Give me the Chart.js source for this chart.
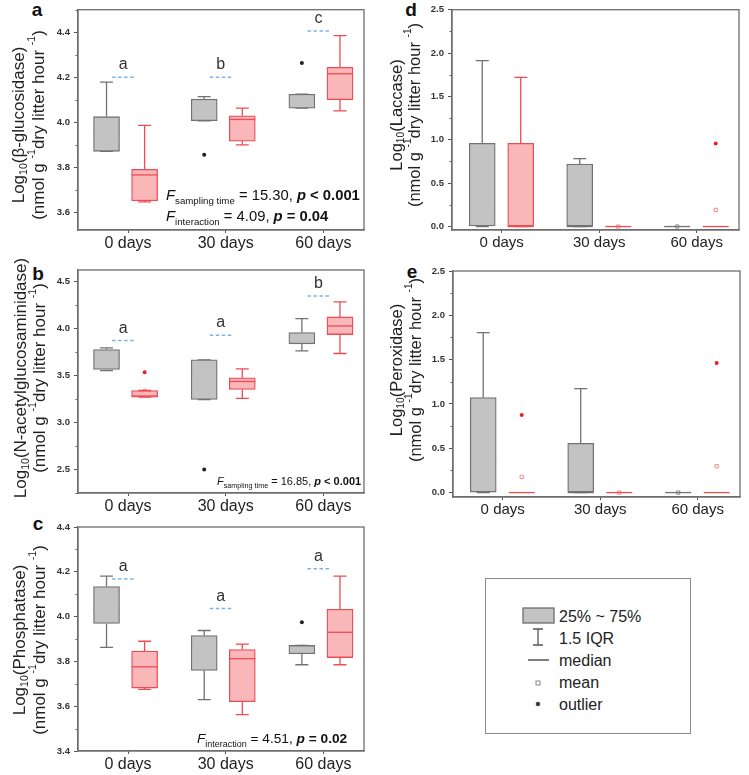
<!DOCTYPE html>
<html>
<head>
<meta charset="utf-8">
<script src="https://cdn.jsdelivr.net/npm/chart.js@4.4.0/dist/chart.umd.min.js"></script>
<style>
  body { margin: 0; background: #fff; }
  #fig { position: relative; width: 749px; height: 775px; overflow: hidden; background: #fff; }
  #fig canvas { position: absolute; }
  #overlay { position: absolute; left: 0; top: 0; }
</style>
</head>
<body>
<div id="fig">
  <svg id="overlay" width="749" height="775" font-family="Arial, 'Liberation Sans', sans-serif">
    <g font-size="19" font-weight="bold" fill="#111" text-anchor="middle">
      <text x="37" y="16">a</text>
      <text x="38" y="280">b</text>
      <text x="38" y="530">c</text>
      <text x="411" y="16">d</text>
      <text x="412" y="278">e</text>
    </g>
    <!-- legend -->
    <rect x="485.5" y="578.5" width="205" height="155" fill="none" stroke="#8a8a8a" stroke-width="1"/>
    <rect x="523" y="608" width="31" height="15" fill="#c3c3c3" stroke="#6e6e6e" stroke-width="1.3"/>
    <path d="M533 629 H543 M538 629 V645 M533 645 H543" stroke="#555" stroke-width="1.3" fill="none"/>
    <path d="M528 660 H549" stroke="#555" stroke-width="1.5"/>
    <rect x="536" y="681" width="4" height="4" fill="none" stroke="#888" stroke-width="1"/>
    <circle cx="538" cy="704" r="2.3" fill="#444"/>
    <g font-size="16" fill="#222">
      <text x="559" y="622">25% ~ 75%</text>
      <text x="559" y="644">1.5 IQR</text>
      <text x="559" y="666">median</text>
      <text x="559" y="688">mean</text>
      <text x="559" y="710">outlier</text>
    </g>
  </svg>
</div>
<script>
const days = ['0 days', '30 days', '60 days'];

// rows per sampling day: [low whisker, Q1, median, Q3, high whisker]
// a: beta-glucosidase
const gluGrey = [[3.87, 3.87, 3.972, 4.024, 4.178], [4.005, 4.006, 4.025, 4.102, 4.113], [4.062, 4.062, 4.094, 4.124, 4.124]];
const gluGreyMean = [3.98, 4.02, 4.115];
const gluGreyOut = [[], [3.855], [4.263]];
const gluRed = [[3.645, 3.65, 3.765, 3.79, 3.985], [3.899, 3.915, 4.012, 4.028, 4.062], [4.05, 4.1, 4.215, 4.244, 4.385]];
const gluRedMean = [3.765, 3.98, 4.195];
const gluRedOut = [[], [], []];
const gluTicks = [3.6, 3.8, 4.0, 4.2, 4.4];
const gluLetters = ['a', 'b', 'c'];
const gluLetterAt = [4.2, 4.2, 4.405];
const gluStats = [['sampling time', '15.30', '< 0.001'], ['interaction', '4.09', '= 0.04']];

// b: N-acetylglucosaminidase
const nagGrey = [[3.552, 3.563, 3.684, 3.776, 3.794], [3.243, 3.243, 3.56, 3.666, 3.666], [3.762, 3.837, 3.9, 3.957, 4.107]];
const nagGreyMean = [3.67, 3.325, 3.91];
const nagGreyOut = [[], [2.497], []];
const nagRed = [[3.268, 3.268, 3.28, 3.339, 3.339], [3.254, 3.35, 3.435, 3.474, 3.57], [3.734, 3.936, 4.028, 4.124, 4.284]];
const nagRedMean = [3.335, 3.41, 4.015];
const nagRedOut = [[3.535], [], []];
const nagTicks = [2.5, 3.0, 3.5, 4.0, 4.5];
const nagLetters = ['a', 'a', 'b'];
const nagLetterAt = [3.872, 3.929, 4.348];
const nagStats = [['sampling time', '16.85', '< 0.001']];

// c: phosphatase
const phoGrey = [[3.863, 3.969, 4.033, 4.134, 4.181], [3.629, 3.76, 3.881, 3.915, 3.938], [3.785, 3.834, 3.87, 3.871, 3.871]];
const phoGreyMean = [4.035, 3.825, 3.865];
const phoGreyOut = [[], [], [3.975]];
const phoRed = [[3.675, 3.681, 3.776, 3.846, 3.89], [3.562, 3.62, 3.812, 3.853, 3.877], [3.785, 3.817, 3.93, 4.033, 4.181]];
const phoRedMean = [3.77, 3.745, 3.95];
const phoRedOut = [[], [], []];
const phoTicks = [3.4, 3.6, 3.8, 4.0, 4.2, 4.4];
const phoLetters = ['a', 'a', 'a'];
const phoLetterAt = [4.168, 4.036, 4.214];
const phoStats = [['interaction', '4.51', '= 0.02']];

// d: laccase
const lacGrey = [[0, 0, 0.124, 0.96, 1.913], [0, 0, 0, 0.72, 0.783], [0, 0, 0, 0, 0]];
const lacGreyMean = [0.6, 0.298, 0];
const lacGreyOut = [[], [], []];
const lacRed = [[0, 0, 0, 0.96, 1.72], [0, 0, 0, 0, 0], [0, 0, 0, 0, 0]];
const lacRedMean = [0.539, 0, 0.192];
const lacRedOut = [[], [], [0.957]];
const lacTicks = [0.0, 0.5, 1.0, 1.5, 2.0, 2.5];

// e: peroxidase
const perGrey = [[0, 0, 0.342, 1.071, 1.805], [0, 0, 0, 0.556, 1.173], [0, 0, 0, 0, 0]];
const perGreyMean = [0.643, 0.346, 0];
const perGreyOut = [[], [], []];
const perRed = [[0, 0, 0, 0, 0], [0, 0, 0, 0, 0], [0, 0, 0, 0, 0]];
const perRedMean = [0.177, 0, 0.297];
const perRedOut = [[0.876], [], [1.462]];
const perTicks = [0.0, 0.5, 1.0, 1.5, 2.0, 2.5];

const FONT = 'Arial, "Liberation Sans", sans-serif';
Chart.defaults.font.family = FONT;

const GREY_FILL = '#c3c3c3', GREY_LINE = '#727272';
const RED_FILL = '#f9b7ba', RED_LINE = '#ee4b53';
const FRAME = '#6e6e6e';

const leftX = { min: -0.512, max: 2.416, grey: -0.22, red: 0.17 };
const rightX = { min: -0.51, max: 2.434, grey: -0.2, red: 0.195 };

const panels = [
  { name: 'β-glucosidase', grey: gluGrey, greyMean: gluGreyMean, greyOut: gluGreyOut, red: gluRed, redMean: gluRedMean, redOut: gluRedOut,
    ticks: gluTicks, letters: gluLetters, letterAt: gluLetterAt, stats: gluStats,
    yMin: 3.52, yMax: 4.5, minor: 0.1, xs: leftX,
    box: { x: 0, y: 0, w: 370, h: 258 }, area: { l: 78, t: 8, r: 364, b: 230 },
    titleX: [19, 39], titleY: 125, titleSize: 17, labelSize: 16, statX: 166, statY: [200, 221], statSize: 14.8 },
  { name: 'N-acetylglucosaminidase', grey: nagGrey, greyMean: nagGreyMean, greyOut: nagGreyOut, red: nagRed, redMean: nagRedMean, redOut: nagRedOut,
    ticks: nagTicks, letters: nagLetters, letterAt: nagLetterAt, stats: nagStats,
    yMin: 2.245, yMax: 4.625, minor: 0.25, xs: leftX,
    box: { x: 0, y: 258, w: 370, h: 258 }, area: { l: 78, t: 270, r: 364, b: 493 },
    titleX: [21, 40], titleY: 378, titleSize: 17, labelSize: 16, statX: 217, statY: [485], statSize: 11 },
  { name: 'Phosphatase', grey: phoGrey, greyMean: phoGreyMean, greyOut: phoGreyOut, red: phoRed, redMean: phoRedMean, redOut: phoRedOut,
    ticks: phoTicks, letters: phoLetters, letterAt: phoLetterAt, stats: phoStats,
    yMin: 3.4, yMax: 4.4, minor: 0.1, xs: leftX,
    box: { x: 0, y: 516, w: 370, h: 259 }, area: { l: 78, t: 527, r: 364, b: 751 },
    titleX: [20, 40], titleY: 640, titleSize: 17, labelSize: 16, statX: 197, statY: [743], statSize: 13.7 },
  { name: 'Laccase', grey: lacGrey, greyMean: lacGreyMean, greyOut: lacGreyOut, red: lacRed, redMean: lacRedMean, redOut: lacRedOut,
    ticks: lacTicks, letters: [], letterAt: [], stats: [],
    yMin: -0.04, yMax: 2.5, minor: 0.25, xs: rightX,
    box: { x: 370, y: 0, w: 379, h: 258 }, area: { l: 452, t: 6, r: 739, b: 230 },
    titleX: [397, 415], titleY: 115, titleSize: 16.5, labelSize: 15, statX: 0, statY: [], statSize: 14 },
  { name: 'Peroxidase', grey: perGrey, greyMean: perGreyMean, greyOut: perGreyOut, red: perRed, redMean: perRedMean, redOut: perRedOut,
    ticks: perTicks, letters: [], letterAt: [], stats: [],
    yMin: -0.05, yMax: 2.5, minor: 0.25, xs: rightX,
    box: { x: 370, y: 258, w: 379, h: 262 }, area: { l: 453, t: 271, r: 740, b: 497 },
    titleX: [397, 416], titleY: 370, titleSize: 16.5, labelSize: 15, statX: 0, statY: [], statSize: 14 }
];

function drawRuns(ctx, runs, x, y) {
  runs.forEach(r => {
    ctx.font = `${r.st || ''} ${r.s}px ${FONT}`;
    ctx.fillText(r.t, x, y + (r.dy || 0));
    x += ctx.measureText(r.t).width;
  });
  return x;
}
function runsWidth(ctx, runs) {
  let w = 0;
  runs.forEach(r => { ctx.font = `${r.st || ''} ${r.s}px ${FONT}`; w += ctx.measureText(r.t).width; });
  return w;
}

function decorPlugin(p) {
  const ox = p.box.x, oy = p.box.y;
  return {
    id: 'decor',
    afterDatasetDraw(chart, args) {
      if (args.index !== 1) return;
      const ctx = chart.ctx, ys = chart.scales.y;
      [0, 1].forEach(di => {
        const ds = chart.data.datasets[di];
        const meta = chart.getDatasetMeta(di);
        ds.boxRows.forEach((r, i) => {
          const el = meta.data[i];
          const cx = el.x, hw = 13;
          const py = r.map(v => ys.getPixelForValue(v));
          ctx.save();
          ctx.lineWidth = 1.3;
          ctx.strokeStyle = ds.borderColor;
          ctx.beginPath();
          if (r[4] > r[0]) {
            ctx.moveTo(cx, py[3]); ctx.lineTo(cx, py[4]);
            ctx.moveTo(cx - 6.5, py[4]); ctx.lineTo(cx + 6.5, py[4]);
            ctx.moveTo(cx, py[1]); ctx.lineTo(cx, py[0]);
            ctx.moveTo(cx - 6.5, py[0]); ctx.lineTo(cx + 6.5, py[0]);
          }
          ctx.stroke();
          ctx.beginPath();
          ctx.moveTo(cx - hw, py[2]); ctx.lineTo(cx + hw, py[2]);
          ctx.stroke();
          ctx.restore();
        });
      });
    },
    afterDraw(chart) {
      const ctx = chart.ctx, a = chart.chartArea;
      const xs = chart.scales.x, ys = chart.scales.y;
      ctx.save();
      // frame
      ctx.strokeStyle = FRAME; ctx.lineWidth = 1.3;
      ctx.strokeRect(a.left, a.top, a.right - a.left, a.bottom - a.top);
      // minor ticks
      ctx.strokeStyle = '#666'; ctx.lineWidth = 1;
      ctx.beginPath();
      for (let k = Math.ceil(p.yMin / p.minor - 1e-6); k * p.minor <= p.yMax + 1e-6; k++) {
        const v = k * p.minor;
        if (p.ticks.some(t => Math.abs(t - v) < 1e-6)) continue;
        const y = Math.round(ys.getPixelForValue(v)) + 0.5;
        ctx.moveTo(a.left - 2.5, y); ctx.lineTo(a.left, y);
      }
      ctx.stroke();
      // significance letters with dashed reference lines
      p.letters.forEach((L, i) => {
        const cx = xs.getPixelForValue(i - 0.04);
        const y = ys.getPixelForValue(p.letterAt[i]);
        ctx.strokeStyle = '#7fb2e5'; ctx.lineWidth = 1.5; ctx.setLineDash([3.5, 2.5]);
        ctx.beginPath(); ctx.moveTo(cx - 12, y); ctx.lineTo(cx + 12, y); ctx.stroke();
        ctx.setLineDash([]);
        ctx.fillStyle = '#333'; ctx.font = `16px ${FONT}`; ctx.textAlign = 'center'; ctx.textBaseline = 'alphabetic';
        ctx.fillText(L, cx - 1, y - 8);
      });
      // statistics text
      ctx.textAlign = 'left'; ctx.textBaseline = 'alphabetic'; ctx.fillStyle = '#111';
      const f = p.statSize;
      p.stats.forEach((s, j) => {
        drawRuns(ctx, [
          { t: 'F', s: f, st: 'italic' },
          { t: s[0], s: f * 0.656, dy: f * 0.27 },
          { t: ' = ' + s[1] + ', ', s: f },
          { t: 'p', s: f, st: 'italic bold' },
          { t: ' ' + s[2], s: f, st: 'bold' }
        ], p.statX - ox, p.statY[j] - oy);
      });
      // y axis title (two lines, rotated)
      const fs = p.titleSize, sm = fs * 0.62;
      const lines = [
        [{ t: 'Log', s: fs }, { t: '10', s: sm, dy: fs * 0.28 }, { t: '(' + p.name + ')', s: fs }],
        [{ t: '(nmol g ', s: fs }, { t: '-1', s: sm, dy: -fs * 0.4 }, { t: 'dry litter hour ', s: fs }, { t: '-1', s: sm, dy: -fs * 0.4 }, { t: ')', s: fs }]
      ];
      ctx.fillStyle = '#222'; ctx.textBaseline = 'middle';
      lines.forEach((runs, j) => {
        ctx.save();
        ctx.translate(p.titleX[j] - ox, p.titleY - oy);
        ctx.rotate(-Math.PI / 2);
        drawRuns(ctx, runs, -runsWidth(ctx, runs) / 2, 0);
        ctx.restore();
      });
      ctx.restore();
    }
  };
}

function buildPanel(p) {
  const cv = document.createElement('canvas');
  cv.width = p.box.w; cv.height = p.box.h;
  cv.style.left = p.box.x + 'px'; cv.style.top = p.box.y + 'px';
  cv.style.width = p.box.w + 'px'; cv.style.height = p.box.h + 'px';
  document.getElementById('fig').appendChild(cv);

  const boxes = (rows, off) => rows.map((r, i) => ({ x: i + off, y: [r[1], r[3]] }));
  const means = (vals, off) => vals.map((v, i) => ({ x: i + off, y: v }));
  const outs = (lists, off) => lists.flatMap((vs, i) => vs.map(v => ({ x: i + off, y: v })));

  new Chart(cv, {
    type: 'bar',
    data: {
      datasets: [
        { data: boxes(p.grey, p.xs.grey), boxRows: p.grey, backgroundColor: GREY_FILL, borderColor: GREY_LINE,
          borderWidth: 1.3, borderSkipped: false, grouped: false, barThickness: 26 },
        { data: boxes(p.red, p.xs.red), boxRows: p.red, backgroundColor: RED_FILL, borderColor: RED_LINE,
          borderWidth: 1.3, borderSkipped: false, grouped: false, barThickness: 26 },
        { type: 'line', showLine: false, data: means(p.greyMean, p.xs.grey), pointStyle: 'rect', pointRadius: 2.3,
          pointBackgroundColor: 'rgba(0,0,0,0)', pointBorderColor: '#8a8a8a', pointBorderWidth: 1 },
        { type: 'line', showLine: false, data: means(p.redMean, p.xs.red), pointStyle: 'rect', pointRadius: 2.3,
          pointBackgroundColor: 'rgba(0,0,0,0)', pointBorderColor: '#f08a8f', pointBorderWidth: 1 },
        { type: 'line', showLine: false, data: outs(p.greyOut, p.xs.grey), pointStyle: 'circle', pointRadius: 2,
          pointBackgroundColor: '#222', pointBorderWidth: 0 },
        { type: 'line', showLine: false, data: outs(p.redOut, p.xs.red), pointStyle: 'circle', pointRadius: 2,
          pointBackgroundColor: '#e8202a', pointBorderWidth: 0 }
      ]
    },
    options: {
      responsive: false,
      animation: false,
      devicePixelRatio: 1,
      layout: { padding: { left: 0, top: p.area.t - p.box.y, right: p.box.x + p.box.w - p.area.r, bottom: 0 } },
      plugins: { legend: { display: false }, tooltip: { enabled: false } },
      scales: {
        x: {
          type: 'linear', min: p.xs.min, max: p.xs.max, offset: false,
          afterBuildTicks: ax => { ax.ticks = days.map((d, i) => ({ value: i })); },
          afterFit: s => { s.height = p.box.y + p.box.h - p.area.b; },
          ticks: { callback: (v, i) => days[i], font: { size: p.labelSize }, color: '#222', padding: 1, maxRotation: 0 },
          grid: { display: true, drawOnChartArea: false, offset: false, tickLength: 3, color: '#555' },
          border: { color: FRAME, width: 1.3 }
        },
        y: {
          type: 'linear', min: p.yMin, max: p.yMax,
          afterBuildTicks: ax => { ax.ticks = p.ticks.map(v => ({ value: v })); },
          afterFit: s => { s.width = p.area.l - p.box.x; },
          ticks: { callback: v => v.toFixed(1), font: { size: 9.5, weight: 'bold' }, color: '#333', padding: 4 },
          grid: { display: true, drawOnChartArea: false, tickLength: 4, color: '#555' },
          border: { color: FRAME, width: 1.3 }
        }
      }
    },
    plugins: [decorPlugin(p)]
  });
}

panels.forEach(buildPanel);
</script>
</body>
</html>
